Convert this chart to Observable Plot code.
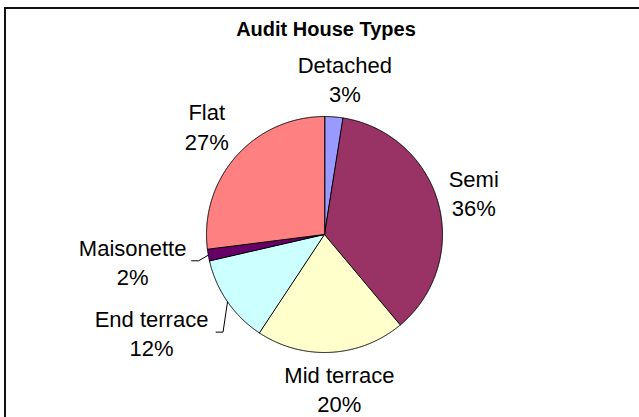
<!DOCTYPE html>
<html>
<head>
<meta charset="utf-8">
<script src="https://cdn.jsdelivr.net/npm/d3@7"></script>
<script src="https://cdn.jsdelivr.net/npm/@observablehq/plot@0.6"></script>
<style>
  html, body { margin: 0; padding: 0; background: #fff; }
  #wrap { position: relative; width: 639px; height: 417px; overflow: hidden; }
  #frame { position: absolute; left: 4px; top: 7px; width: 700px; height: 500px;
           border-left: 2px solid #111; border-top: 2px solid #111; pointer-events: none; }
</style>
</head>
<body>
<div id="wrap"><div id="frame"></div></div>
<script>
const chartTitle = "Audit House Types";
const categories = ["Detached", "Semi", "Mid terrace", "End terrace", "Maisonette", "Flat"];
const shares = [2.5, 36.4, 20.4, 12.1, 1.6, 27.0];
const pctLabels = ["3%", "36%", "20%", "12%", "2%", "27%"];
const colors = ["#9999FF", "#993366", "#FFFFCC", "#CCFFFF", "#660066", "#FF8080"];
const leaderCategories = ["End terrace", "Maisonette"];

// layout (pixels)
const W = 639, H = 417, CX = 324, CY = 234, R = 118;
const FS = 22;
const labelNudge = {
  "Detached": [8, 0], "Semi": [-2, 0], "Mid terrace": [6, -3],
  "End terrace": [-12, -14], "Maisonette": [1, -8], "Flat": [0, -5]
};

const arcs = d3.pie().sort(null).value(d => d)(shares);
const pt = (a, r) => ({x: r * Math.sin(a), y: r * Math.cos(a)});

// slice polygons
const slicePts = [];
arcs.forEach((arc, i) => {
  const name = categories[i];
  slicePts.push({name, ...pt(0, 0)});
  const n = Math.max(2, Math.ceil((arc.endAngle - arc.startAngle) / 0.005));
  for (let k = 0; k <= n; k++) {
    const a = arc.startAngle + (arc.endAngle - arc.startAngle) * k / n;
    slicePts.push({name, ...pt(a, 1)});
  }
});

// labels
const labels = arcs.map((arc, i) => {
  const name = categories[i];
  const mid = (arc.startAngle + arc.endAngle) / 2;
  const lead = leaderCategories.includes(name);
  const p = pt(mid, lead ? 1.66 : 1.33);
  const [ndx, ndy] = labelNudge[name] || [0, 0];
  return {name, mid, lead, x: p.x + ndx / R, y: p.y - ndy / R, text: name + "\n" + pctLabels[i]};
});

// leader lines
const leaderPts = [];
labels.filter(d => d.lead).forEach(d => {
  const half = (d.name.length * FS * 0.25 + 4) / R;
  const sx = d.x + half;
  leaderPts.push({name: d.name, x: sx, y: d.y});
  leaderPts.push({name: d.name, x: sx + 7 / R, y: d.y});
  const e = pt(d.mid, 1);
  leaderPts.push({name: d.name, x: e.x, y: e.y});
});

const chart = Plot.plot({
  width: W,
  height: H,
  margin: 0,
  style: {fontFamily: "'Liberation Sans', Arial, sans-serif", background: "transparent"},
  x: {domain: [-CX / R, (W - CX) / R], axis: null},
  y: {domain: [-(H - CY) / R, CY / R], axis: null},
  color: {domain: categories, range: colors},
  marks: [
    Plot.line(slicePts, {x: "x", y: "y", z: "name", fill: "name", stroke: "#000", strokeWidth: 1, curve: "linear-closed", strokeLinejoin: "miter"}),
    Plot.line(leaderPts, {x: "x", y: "y", z: "name", stroke: "#000", strokeWidth: 1}),
    Plot.text(labels, {x: "x", y: "y", text: "text", fontSize: FS, lineHeight: 1.32, fill: "#000"}),
    Plot.text([chartTitle], {frameAnchor: "top", dx: 6, dy: 21, fontSize: 20, fontWeight: "bold", fill: "#000"})
  ]
});
document.getElementById("wrap").prepend(chart);
</script>
</body>
</html>
